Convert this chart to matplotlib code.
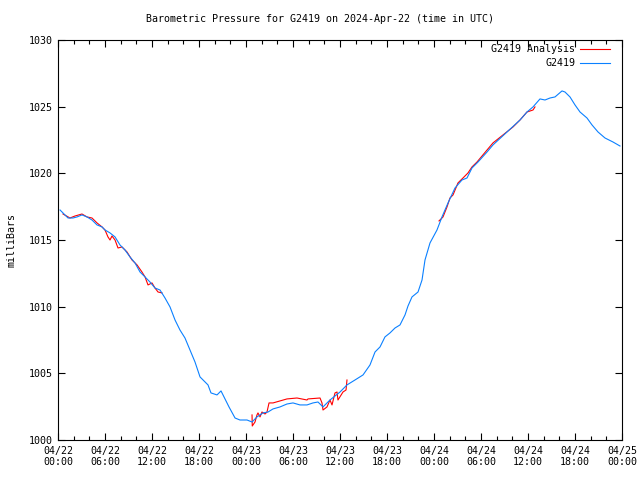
# Barometric pressure for G2419, 2024-04-22 .. 2024-04-25 (UTC)
# gnuplot-style line chart re-done with matplotlib

import numpy as np
import matplotlib
matplotlib.use("Agg")
import matplotlib.pyplot as plt
from matplotlib.ticker import MultipleLocator


# ------------------------------------------------------------
# Data (hours since 2024-04-22 00:00 UTC, pressure in mbar)
# ------------------------------------------------------------
obs_hours = [0.26, 0.89, 1.28, 1.91, 2.43, 3.06, 3.70, 4.34, 4.98, 5.62, 6.00, 6.64, 7.28, 7.91,
             8.55, 9.19, 9.83, 10.47, 11.11, 11.74, 12.38, 13.02, 13.66, 14.30, 14.94, 15.57,
             16.21, 16.85, 17.49, 18.13, 19.15, 19.53, 20.30, 20.81, 21.32, 21.83, 22.60, 23.23,
             24.13, 24.77, 25.40, 26.17, 26.81, 27.45, 28.34, 29.23, 30.00, 30.89, 31.79, 32.55,
             33.19, 33.83, 34.72, 36.00, 36.89, 37.91, 38.94, 39.83, 40.47, 41.11, 41.74, 42.38,
             43.02, 43.66, 44.30, 44.68, 45.19, 45.96, 46.47, 46.85, 47.49, 48.38, 49.02, 49.79,
             50.68, 51.57, 52.21, 52.85, 53.62, 54.77, 55.53, 57.32, 58.98, 59.87, 60.64, 61.53,
             62.17, 62.81, 63.45, 64.34, 64.72, 65.36, 66.00, 66.64, 67.53, 68.17, 68.94, 69.83,
             70.85, 71.74]
obs_mbar = [1017.25, 1016.88, 1016.65, 1016.65, 1016.73, 1016.88, 1016.73, 1016.50, 1016.13,
            1015.98, 1015.75, 1015.53, 1015.23, 1014.63, 1014.25, 1013.73, 1013.28, 1012.60,
            1012.23, 1011.85, 1011.40, 1011.25, 1010.65, 1009.98, 1009.00, 1008.25, 1007.65,
            1006.75, 1005.85, 1004.73, 1004.13, 1003.53, 1003.38, 1003.68, 1003.08, 1002.48,
            1001.65, 1001.50, 1001.50, 1001.35, 1001.73, 1002.03, 1002.10, 1002.33, 1002.48,
            1002.70, 1002.78, 1002.63, 1002.63, 1002.78, 1002.85, 1002.48, 1003.00, 1003.60,
            1004.13, 1004.50, 1004.88, 1005.63, 1006.60, 1006.98, 1007.73, 1008.03, 1008.40,
            1008.63, 1009.38, 1010.05, 1010.73, 1011.10, 1012.00, 1013.50, 1014.78, 1015.75,
            1016.73, 1017.78, 1018.90, 1019.50, 1019.65, 1020.40, 1020.85, 1021.60, 1022.13,
            1023.10, 1024.00, 1024.60, 1024.98, 1025.58, 1025.50, 1025.65, 1025.73, 1026.18,
            1026.10, 1025.73, 1025.13, 1024.60, 1024.15, 1023.63, 1023.10, 1022.65, 1022.35,
            1022.05]

# analysis series comes in three separate chunks
ana1_hours = [0.64, 1.53, 2.17, 3.06, 3.70, 4.34, 4.98, 5.62, 6.00, 6.38, 6.64, 6.89, 7.28,
              7.66, 8.17, 8.81, 9.45, 10.09, 10.72, 11.11, 11.49, 12.00, 12.38, 12.77, 13.28]
ana1_mbar = [1016.95, 1016.65, 1016.80, 1016.95, 1016.73, 1016.65, 1016.28, 1015.98, 1015.75,
             1015.23, 1015.00, 1015.30, 1015.00, 1014.40, 1014.48, 1014.10, 1013.50, 1013.13,
             1012.60, 1012.23, 1011.63, 1011.78, 1011.40, 1011.10, 1011.03]

ana2_hours = [24.77, 24.80, 25.15, 25.40, 25.53, 25.79, 26.04, 26.43, 26.68, 26.94, 27.45,
              28.34, 29.23, 30.51, 31.79, 31.91, 33.45, 33.70, 33.83, 34.34, 34.72, 34.98,
              35.36, 35.62, 35.74, 36.38, 36.77, 36.89]
ana2_mbar = [1001.88, 1001.05, 1001.35, 1001.88, 1002.03, 1001.73, 1002.10, 1001.95, 1002.10,
             1002.78, 1002.78, 1002.93, 1003.08, 1003.15, 1003.00, 1003.08, 1003.15, 1002.78,
             1002.25, 1002.48, 1003.00, 1002.63, 1003.53, 1003.60, 1003.00, 1003.60, 1003.75,
             1004.50]

ana3_hours = [48.64, 49.15, 49.66, 50.04, 50.43, 51.06, 51.70, 52.34, 52.85, 53.49, 54.13,
              54.77, 55.53, 56.81, 58.09, 58.98, 59.87, 60.64, 60.89]
ana3_mbar = [1016.43, 1016.73, 1017.48, 1018.15, 1018.38, 1019.28, 1019.65, 1020.03, 1020.48,
             1020.85, 1021.30, 1021.75, 1022.28, 1022.88, 1023.48, 1024.00, 1024.60, 1024.75,
             1024.98]

tick_labels = ["04/22\n00:00", "04/22\n06:00", "04/22\n12:00", "04/22\n18:00",
               "04/23\n00:00", "04/23\n06:00", "04/23\n12:00", "04/23\n18:00",
               "04/24\n00:00", "04/24\n06:00", "04/24\n12:00", "04/24\n18:00",
               "04/25\n00:00"]


# ------------------------------------------------------------
# Plot
# ------------------------------------------------------------
def main():
    plt.rcParams["font.family"] = "DejaVu Sans Mono"
    fs = 7.2

    fig = plt.figure(figsize=(6.4, 4.8), dpi=100)
    ax = fig.add_axes([58 / 640, 40 / 480, 564 / 640, 400 / 480])

    red = "#ff0000"
    blue = "#0a80ff"
    ax.plot(ana1_hours, ana1_mbar, color=red, lw=0.8, label="G2419 Analysis")
    ax.plot(ana2_hours, ana2_mbar, color=red, lw=0.8)
    ax.plot(ana3_hours, ana3_mbar, color=red, lw=0.8)
    ax.plot(obs_hours, obs_mbar, color=blue, lw=0.8, label="G2419")

    ax.set_xlim(0, 72)
    ax.set_ylim(1000, 1030)
    ax.set_xticks(np.arange(0, 73, 6))
    ax.set_xticklabels(tick_labels, fontsize=fs)
    ax.xaxis.set_minor_locator(MultipleLocator(2))
    ax.set_yticks(np.arange(1000, 1031, 5))
    ax.tick_params(axis="y", labelsize=fs)
    ax.tick_params(which="both", direction="in", top=True, right=True, width=0.8, color="black")
    ax.tick_params(which="major", length=5)
    ax.tick_params(which="minor", length=3)
    ax.tick_params(axis="x", pad=4)
    for s in ax.spines.values():
        s.set_linewidth(0.8)

    ax.set_ylabel("milliBars", fontsize=fs, labelpad=9)
    fig.text(0.5, 1 - 19 / 480, "Barometric Pressure for G2419 on 2024-Apr-22 (time in UTC)",
             ha="center", va="center", fontsize=fs)

    ax.legend(loc="upper right", bbox_to_anchor=(1 - 12 / 564, 1 - 4.5 / 400),
              frameon=False, markerfirst=False, fontsize=fs,
              handlelength=3.0, handletextpad=0.5, labelspacing=0.4,
              borderaxespad=0, borderpad=0)

    fig.savefig("out.png", dpi=100)


if __name__ == "__main__":
    main()
